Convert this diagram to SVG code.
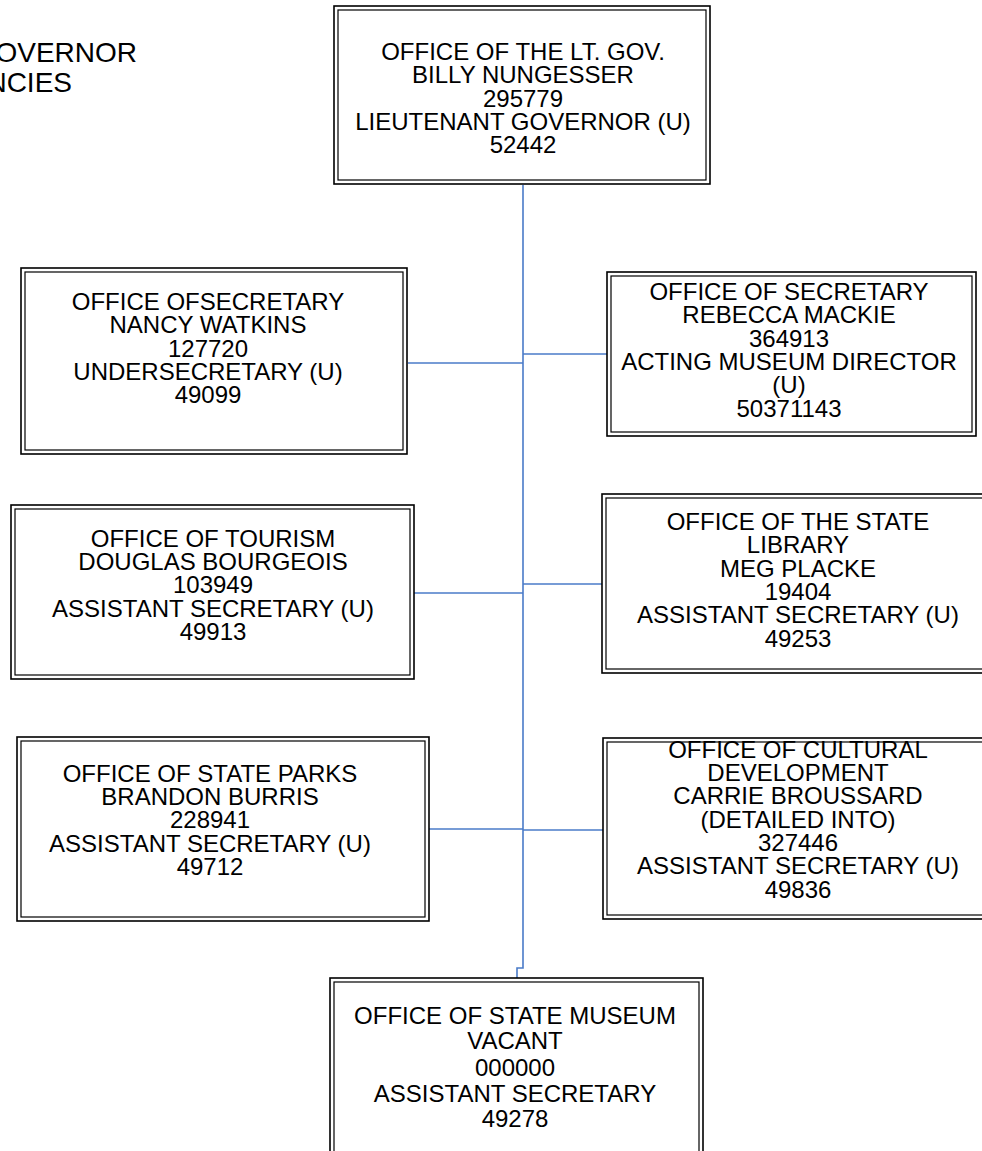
<svg xmlns="http://www.w3.org/2000/svg" width="982" height="1151" viewBox="0 0 982 1151">
<style>
.o{fill:none;stroke:#000;stroke-width:1.6}
.i{fill:none;stroke:#000;stroke-width:1.2}
.bg{fill:#fff;stroke:none}
text{font-family:"Liberation Sans",Arial,sans-serif;font-size:24px;fill:#000}
.c{text-anchor:middle}
.e{text-anchor:end;font-size:28px}
.con{fill:none;stroke:#4a7bc8;stroke-width:1.6}
</style>
<rect x="0" y="0" width="982" height="1151" fill="#fff"/>
<g id="title">
<text class="e" x="137" y="62">OVERNOR</text>
<text class="e" x="72" y="92">NCIES</text>
</g>
<g id="connectors">
<path class="con" d="M523 185 V968 H517 V978"/>
<path class="con" d="M408 363 H523"/>
<path class="con" d="M523 354 H607"/>
<path class="con" d="M414 593 H523"/>
<path class="con" d="M523 584 H602"/>
<path class="con" d="M429 829 H523"/>
<path class="con" d="M523 830 H603"/>
</g>
<g id="lt-gov">
<rect class="o" x="334" y="6" width="376" height="178"/>
<rect class="i" x="338" y="10" width="368" height="170"/>
<text class="c" x="523" y="60">OFFICE OF THE LT. GOV.</text>
<text class="c" x="523" y="83.3">BILLY NUNGESSER</text>
<text class="c" x="523" y="106.7">295779</text>
<text class="c" x="523" y="130">LIEUTENANT GOVERNOR (U)</text>
<text class="c" x="523" y="153.3">52442</text>
</g>
<g id="secretary-watkins">
<rect class="o" x="21" y="268" width="386" height="186"/>
<rect class="i" x="25" y="272" width="378" height="178"/>
<text class="c" x="208" y="310">OFFICE OFSECRETARY</text>
<text class="c" x="208" y="333.3">NANCY WATKINS</text>
<text class="c" x="208" y="356.7">127720</text>
<text class="c" x="208" y="380">UNDERSECRETARY (U)</text>
<text class="c" x="208" y="403.3">49099</text>
</g>
<g id="secretary-mackie">
<rect class="o" x="607" y="272" width="369" height="164"/>
<rect class="i" x="611" y="276" width="361" height="156"/>
<text class="c" x="789" y="300">OFFICE OF SECRETARY</text>
<text class="c" x="789" y="323.3">REBECCA MACKIE</text>
<text class="c" x="789" y="346.7">364913</text>
<text class="c" x="789" y="370">ACTING MUSEUM DIRECTOR</text>
<text class="c" x="789" y="393.3">(U)</text>
<text class="c" x="789" y="416.7">50371143</text>
</g>
<g id="tourism">
<rect class="o" x="11" y="505" width="403" height="174"/>
<rect class="i" x="15" y="509" width="395" height="166"/>
<text class="c" x="213" y="546.7">OFFICE OF TOURISM</text>
<text class="c" x="213" y="570">DOUGLAS BOURGEOIS</text>
<text class="c" x="213" y="593.3">103949</text>
<text class="c" x="213" y="616.7">ASSISTANT SECRETARY (U)</text>
<text class="c" x="213" y="640">49913</text>
</g>
<g id="state-library">
<rect class="o" x="602" y="494" width="396" height="179"/>
<rect class="i" x="606" y="498" width="388" height="171"/>
<text class="c" x="798" y="530">OFFICE OF THE STATE</text>
<text class="c" x="798" y="553.3">LIBRARY</text>
<text class="c" x="798" y="576.7">MEG PLACKE</text>
<text class="c" x="798" y="600">19404</text>
<text class="c" x="798" y="623.3">ASSISTANT SECRETARY (U)</text>
<text class="c" x="798" y="646.7">49253</text>
</g>
<g id="state-parks">
<rect class="o" x="17" y="737" width="412" height="184"/>
<rect class="i" x="21" y="741" width="404" height="176"/>
<text class="c" x="210" y="781.7">OFFICE OF STATE PARKS</text>
<text class="c" x="210" y="805">BRANDON BURRIS</text>
<text class="c" x="210" y="828.3">228941</text>
<text class="c" x="210" y="851.7">ASSISTANT SECRETARY (U)</text>
<text class="c" x="210" y="875">49712</text>
</g>
<g id="cultural-development">
<text class="c" x="798" y="757.5">OFFICE OF CULTURAL</text>
<rect class="o" x="603" y="738" width="395" height="181"/>
<rect class="i" x="607" y="742" width="387" height="173"/>
<text class="c" x="798" y="781">DEVELOPMENT</text>
<text class="c" x="798" y="804.3">CARRIE BROUSSARD</text>
<text class="c" x="798" y="827.7">(DETAILED INTO)</text>
<text class="c" x="798" y="851">327446</text>
<text class="c" x="798" y="874.3">ASSISTANT SECRETARY (U)</text>
<text class="c" x="798" y="897.7">49836</text>
</g>
<g id="state-museum">
<rect class="o" x="330" y="978" width="373" height="190"/>
<rect class="i" x="334" y="982" width="365" height="182"/>
<text class="c" x="515" y="1023.5">OFFICE OF STATE MUSEUM</text>
<text class="c" x="515" y="1049.3">VACANT</text>
<text class="c" x="515" y="1075.5">000000</text>
<text class="c" x="515" y="1101.5">ASSISTANT SECRETARY</text>
<text class="c" x="515" y="1127">49278</text>
</g>
</svg>
